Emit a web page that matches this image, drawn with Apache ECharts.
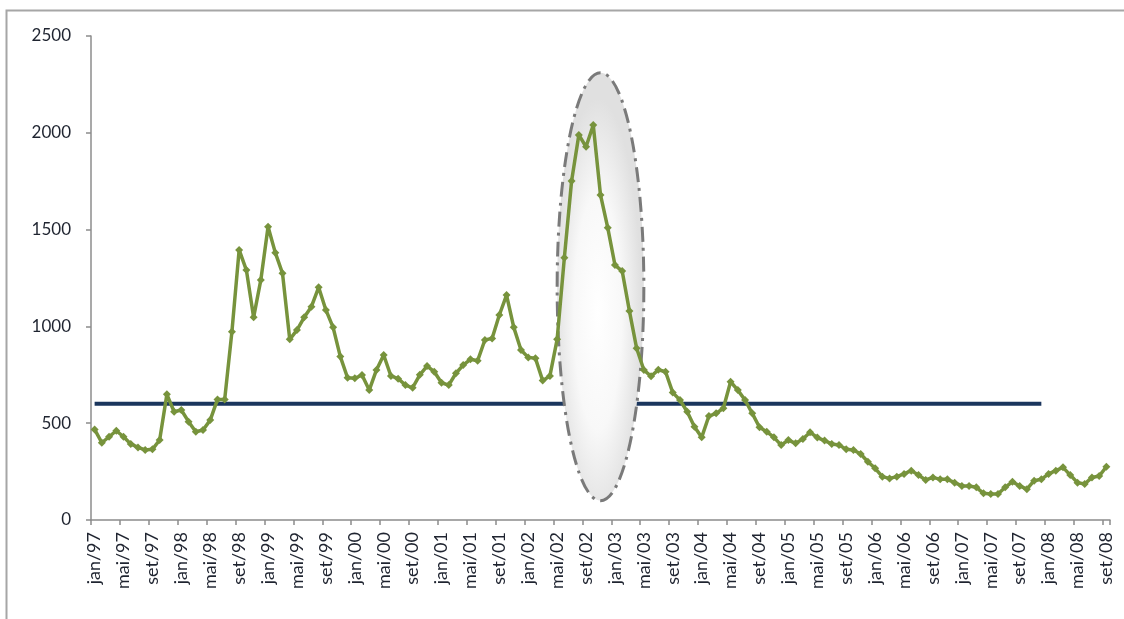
<!DOCTYPE html>
<html>
<head>
<meta charset="utf-8">
<script src="https://cdn.jsdelivr.net/npm/echarts@6/dist/echarts.min.js"></script>
<style>
  html, body { margin: 0; padding: 0; background: #ffffff; }
  #chart { width: 1124px; height: 619px; }
</style>
</head>
<body>
<div id="chart"></div>
<script>
// Monthly series, jan/97 .. set/08
const monthNames = ['jan', 'fev', 'mar', 'abr', 'mai', 'jun', 'jul', 'ago', 'set', 'out', 'nov', 'dez'];
const firstYear = 1997;
const monthCount = 141;

const values = [
  468, 399, 430, 461, 430, 393, 375, 362, 365, 413, 649, 559,
  568, 508, 456, 465, 516, 623, 623, 973, 1395, 1291, 1047, 1240,
  1515, 1381, 1274, 933, 981, 1047, 1102, 1202, 1085, 995, 844, 735,
  732, 749, 671, 775, 852, 744, 730, 697, 683, 750, 795, 766,
  709, 697, 758, 800, 830, 823, 930, 938, 1059, 1162, 995, 878,
  840, 835, 720, 744, 933, 1355, 1751, 1989, 1928, 2040, 1679, 1510,
  1317, 1286, 1080, 887, 775, 742, 776, 766, 658, 620, 559, 482,
  427, 537, 551, 577, 714, 671, 620, 551, 479, 456, 427, 387,
  413, 396, 418, 453, 426, 410, 393, 387, 365, 362, 341, 301,
  267, 224, 215, 224, 238, 255, 232, 207, 220, 210, 210, 193,
  176, 176, 169, 138, 134, 134, 169, 198, 176, 159, 203, 210,
  238, 255, 272, 232, 193, 186, 220, 227, 275
];

// Reference level and the months it covers
const referenceLevel = 600;
const referenceEndIndex = 131; // dez/07

// Highlighted period (category indices and value range of the ellipse)
const highlightCenterIndex = 70;
const highlightHalfWidth = 6;
const highlightTop = 2310;
const highlightBottom = 100;

const yTicks = { min: 0, max: 2500, interval: 500 };

const categories = [];
for (let i = 0; i < monthCount; i++) {
  const y = firstYear + Math.floor(i / 12);
  categories.push(monthNames[i % 12] + '/' + String(y % 100).padStart(2, '0'));
}
const referenceData = categories.map((c, i) => (i <= referenceEndIndex ? referenceLevel : null));

const FONT = 'Lato, "Open Sans", sans-serif';
const chart = echarts.init(document.getElementById('chart'), null, { renderer: 'canvas' });

chart.setOption({
  animation: false,
  backgroundColor: '#ffffff',
  grid: { left: 91, right: 14, top: 36, bottom: 99, containLabel: false },
  xAxis: {
    type: 'category',
    data: categories,
    boundaryGap: true,
    axisLine: { show: true, lineStyle: { color: '#8c8c8c', width: 1.5 } },
    axisTick: { show: true, interval: 3, length: 5, lineStyle: { color: '#8c8c8c', width: 1.5 } },
    axisLabel: {
      interval: 3,
      rotate: 90,
      margin: 12,
      color: '#1f2430',
      fontFamily: FONT,
      fontSize: 18
    },
    splitLine: { show: false }
  },
  yAxis: {
    type: 'value',
    min: yTicks.min,
    max: yTicks.max,
    interval: yTicks.interval,
    axisLine: { show: true, lineStyle: { color: '#8c8c8c', width: 1.5 } },
    axisTick: { show: true, length: 5, lineStyle: { color: '#8c8c8c', width: 1.5 } },
    axisLabel: {
      margin: 20,
      color: '#1f2430',
      fontFamily: FONT,
      fontSize: 17,
      formatter: (v) => String(v)
    },
    splitLine: { show: false }
  },
  series: [
    {
      name: 'referencia',
      type: 'line',
      data: referenceData,
      z: 1,
      symbol: 'none',
      lineStyle: { color: '#1b365d', width: 4 },
      silent: true
    },
    {
      name: 'valores',
      type: 'line',
      data: values,
      z: 10,
      symbol: 'diamond',
      symbolSize: 8,
      showAllSymbol: true,
      itemStyle: { color: '#77933c' },
      lineStyle: { color: '#77933c', width: 3.5 }
    }
  ]
});

// Highlight ellipse placed from data coordinates, plus the outer frame
function placeDecorations() {
  const c = chart.convertToPixel({ gridIndex: 0 }, [highlightCenterIndex, (highlightTop + highlightBottom) / 2]);
  const left = chart.convertToPixel({ gridIndex: 0 }, [highlightCenterIndex - highlightHalfWidth, highlightTop]);
  const bottom = chart.convertToPixel({ gridIndex: 0 }, [highlightCenterIndex, highlightBottom]);
  const top = chart.convertToPixel({ gridIndex: 0 }, [highlightCenterIndex, highlightTop]);
  const rx = c[0] - left[0];
  const ry = (bottom[1] - top[1]) / 2;
  const cy = (bottom[1] + top[1]) / 2;

  chart.setOption({
    graphic: [
      {
        type: 'circle',
        z: 5,
        silent: true,
        x: c[0],
        y: cy,
        scaleX: rx / ry,
        shape: { cx: 0, cy: 0, r: ry },
        style: {
          fill: {
            type: 'radial', x: 0.47, y: 0.56, r: 0.5,
            colorStops: [
              { offset: 0, color: '#ffffff' },
              { offset: 0.55, color: '#f8f8f8' },
              { offset: 1, color: '#e0e0e0' }
            ]
          }
        }
      },
      {
        type: 'ellipse',
        z: 6,
        silent: true,
        shape: { cx: c[0], cy: cy, rx: rx, ry: ry },
        style: {
          fill: null,
          stroke: '#7a7a7a',
          lineWidth: 3,
          lineDash: [15, 6, 3, 6]
        }
      },
      {
        type: 'polyline',
        z: 0,
        silent: true,
        shape: { points: [[6.5, 619], [6.5, 10.5], [1124, 10.5]] },
        style: { fill: null, stroke: '#a6a6a6', lineWidth: 2 }
      }
    ]
  });
}
placeDecorations();
</script>
</body>
</html>
